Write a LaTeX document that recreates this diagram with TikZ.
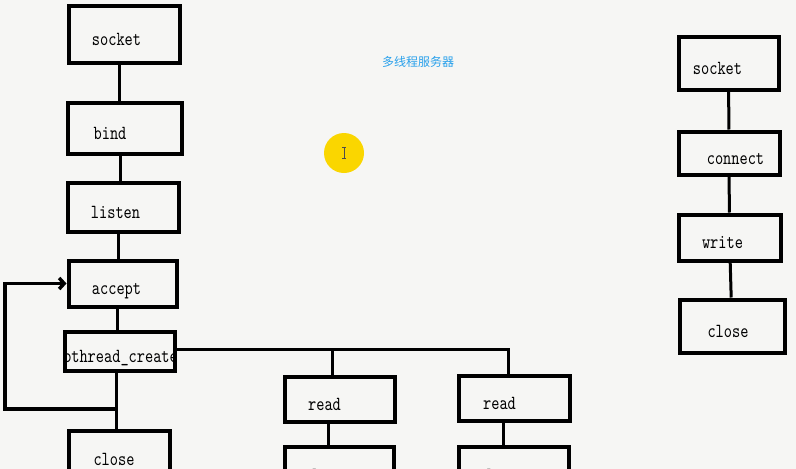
\documentclass[tikz,border=0pt]{standalone}
\usepackage{fontspec}
\newfontfamily\cjk{Noto Sans CJK SC}
\newfontfamily\boxfont{lmmono10-regular.otf}[FakeStretch=0.78]
\usetikzlibrary{arrows.meta}
\usetikzlibrary{calc}
\definecolor{paper}{RGB}{246,246,244}
\definecolor{titleblue}{RGB}{40,160,235}
\definecolor{dot}{RGB}{250,214,0}
\tikzset{
	blk/.style={draw, line width=4pt, inner sep=0pt},
	txt/.style={font=\boxfont\fontsize{20}{22}\selectfont, text height=22pt, text depth=0pt, inner sep=0pt},
	wire/.style={line width=3pt}
}

\begin{document}
\begin{tikzpicture}[x=1pt,y=-1pt]
			\fill[paper] (0,0) rectangle (796,469);
			\useasboundingbox (0,0) rectangle (796,469);
			\clip (0,0) rectangle (796,469);
			
			\node[font=\cjk\fontsize{12}{14}\selectfont, text=titleblue] (title) at (418,62) {多线程服务器};
			\node[circle, fill=dot, minimum size=40pt] (cursor) at (344,153) {};
			\draw[line width=0.8pt, black!70] (342,147) -- (346,147) (344,147) -- (344,158) (342,158) -- (346,158);
			
			\node[blk, minimum width=111pt, minimum height=57pt, label={[txt, xshift=-8pt]center:socket}] (sock) at (124.5,34.5) {};
			\node[blk, minimum width=114pt, minimum height=51pt, label={[txt, xshift=-15pt]center:bind}] (bind) at (125,128) {};
			\node[blk, minimum width=111pt, minimum height=49pt, label={[txt, xshift=-8pt]center:listen}] (lstn) at (123.5,207) {};
			\node[blk, minimum width=108pt, minimum height=46pt, label={[txt, xshift=-6pt]center:accept}] (acc) at (122.5,283.5) {};
			\node[blk, minimum width=110pt, minimum height=39pt, path picture={\node[txt] (pthrtxt) at ([xshift=1pt]path picture bounding box.center) {pthread\_create};}] (pthr) at (119.5,351) {};
			\node[blk, minimum width=101pt, minimum height=47pt, label={[txt, xshift=-5pt]center:close}] (clo) at (119,454) {};
			
			\node[blk, minimum width=110pt, minimum height=45pt, label={[txt, xshift=-15pt]center:read}] (rdA) at (339.5,399) {};
			\node[blk, minimum width=111pt, minimum height=45pt, label={[txt, xshift=-14.5pt]center:read}] (rdB) at (514,398) {};
			\node[blk, minimum width=109pt, minimum height=47pt, label={[txt, xshift=-15pt]center:close}] (cloA) at (339,470) {};
			\node[blk, minimum width=110pt, minimum height=47pt, label={[txt, xshift=-15pt]center:close}] (cloB) at (513.5,470) {};
			
			\node[blk, minimum width=100pt, minimum height=53pt, label={[txt, xshift=-11pt]center:socket}] (csock) at (728.5,63) {};
			\node[blk, minimum width=101pt, minimum height=43pt, label={[txt, xshift=6.5pt]center:connect}] (conn) at (729,153) {};
			\node[blk, minimum width=102pt, minimum height=46pt, label={[txt, xshift=-7pt]center:write}] (wrt) at (729.5,237.5) {};
			\node[blk, minimum width=105pt, minimum height=53pt, label={[txt, xshift=-4pt]center:close}] (cclo) at (732,326) {};
			
			\draw[wire] ([xshift=-5pt]sock.south) -- ([xshift=-5pt]sock.south |- bind.north);
			\draw[wire] ([xshift=-5pt]bind.south) -- ([xshift=-5pt]bind.south |- lstn.north);
			\draw[wire] ([xshift=-5pt]lstn.south) -- ([xshift=-5pt]lstn.south |- acc.north);
			\draw[wire] ([xshift=-5pt]acc.south) -- ([xshift=-5pt]acc.south |- pthr.north);
			\draw[wire] ([xshift=-3pt]pthr.south) -- ([xshift=-3pt]pthr.south |- clo.north);
			
			\coordinate (tap) at (116.5,409);
			\coordinate (lft) at (5,409);
			\draw[wire, line width=3.5pt, -{Straight Barb[length=5pt, width=11pt]}] (tap) -- (lft) |- (acc.west);
			
			\coordinate (forkA) at (332,349);
			\coordinate (forkB) at (508,349);
			\draw[wire] (pthr.east |- forkA) -- (forkB) -- (forkB |- rdB.north);
			\draw[wire] (forkA) -- (forkA |- rdA.north);
			\draw[wire] ([xshift=-11pt]rdA.south) -- ([xshift=-11pt]rdA.south |- cloA.north);
			\draw[wire] ([xshift=-11pt]rdB.south) -- ([xshift=-11pt]rdB.south |- cloB.north);
			
			\draw[wire] (csock) -- (conn);
			\draw[wire] (conn) -- (wrt);
			\draw[wire] (wrt) -- (cclo);
			
		\end{tikzpicture}
\end{document}
